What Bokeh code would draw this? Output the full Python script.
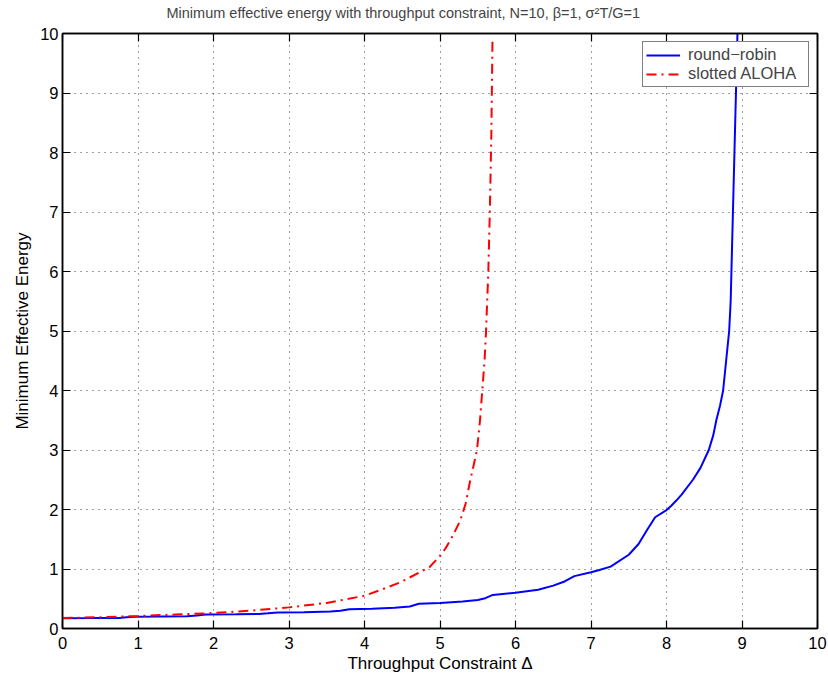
from bokeh.plotting import figure
from bokeh.models import Range1d, LinearAxis, FixedTicker, Legend, LegendItem
from bokeh.embed import file_html
from bokeh.resources import INLINE

# ---- data ----
ticks = [0, 1, 2, 3, 4, 5, 6, 7, 8, 9, 10]

rr_x = [0.0, 0.4, 0.75, 0.85, 0.95, 1.3, 1.65, 1.78, 1.9, 2.3, 2.6, 2.72, 2.85,
        3.2, 3.55, 3.68, 3.8, 4.1, 4.4, 4.6, 4.72, 5.0, 5.3, 5.5, 5.6, 5.7,
        6.0, 6.3, 6.5, 6.65, 6.78, 7.0, 7.1, 7.26, 7.5, 7.63, 7.74, 7.85,
        8.0, 8.06, 8.13, 8.2, 8.35, 8.45, 8.56, 8.62, 8.66, 8.71, 8.75, 8.79,
        8.83, 8.85, 8.86, 8.90, 8.94, 8.96]
rr_y = [0.174, 0.175, 0.178, 0.188, 0.197, 0.200, 0.207, 0.218, 0.235, 0.238,
        0.245, 0.255, 0.270, 0.274, 0.285, 0.297, 0.322, 0.33, 0.35, 0.37,
        0.415, 0.43, 0.455, 0.48, 0.51, 0.565, 0.60, 0.65, 0.72, 0.79, 0.88,
        0.945, 0.98, 1.04, 1.24, 1.42, 1.65, 1.87, 1.99, 2.06, 2.15, 2.25,
        2.5, 2.7, 3.0, 3.25, 3.5, 3.75, 4.0, 4.5, 5.0, 5.5, 6.0, 8.0, 10.0, 10.5]

aloha_x = [0.0, 0.5, 1.0, 1.5, 2.0, 2.5, 3.0, 3.5, 4.0, 4.28, 4.48, 4.74, 4.86,
           5.0, 5.07, 5.17, 5.27, 5.34, 5.40, 5.44, 5.49, 5.53, 5.56, 5.59,
           5.61, 5.64, 5.66, 5.68, 5.695]
aloha_y = [0.175, 0.19, 0.21, 0.235, 0.26, 0.30, 0.355, 0.43, 0.55, 0.68, 0.78,
           0.95, 1.03, 1.22, 1.34, 1.56, 1.82, 2.10, 2.49, 2.71, 3.0, 3.5, 4.0,
           4.5, 5.0, 6.0, 7.0, 8.3, 9.88]

title_text = "Minimum effective energy with throughput constraint, N=10, \u03b2=1, \u03c3\u00b2T/G=1"
x_label = "Throughput Constraint \u0394"
y_label = "Minimum Effective Energy"
series_names = ["round\u2212robin", "slotted ALOHA"]

FONT = "Liberation Sans"

p = figure(width=828, height=679, x_range=Range1d(0, 10), y_range=Range1d(0, 10),
           output_backend="svg", toolbar_location=None,
           min_border_left=62, min_border_right=11, min_border_top=33, min_border_bottom=51)
p.background_fill_color = "white"
p.border_fill_color = "white"
p.outline_line_color = "black"
p.outline_line_width = 1.5

p.title.text = title_text
p.title.text_font = FONT
p.title.text_font_size = "14.5px"
p.title.text_font_style = "normal"
p.title.align = "left"
p.title.offset = 104
p.title.vertical_align = "top"
p.title.standoff = 4

for ax in (p.xaxis[0], p.yaxis[0]):
    ax.ticker = FixedTicker(ticks=ticks)
    ax.major_tick_in = 8
    ax.major_tick_out = 0
    ax.minor_tick_line_color = None
    ax.axis_line_color = "black"
    ax.axis_line_width = 1.5
    ax.major_tick_line_width = 1.2
    ax.major_label_text_font = FONT
    ax.major_label_text_font_size = "16.5px"
    ax.major_label_text_color = "black"
    ax.axis_label_text_font = FONT
    ax.axis_label_text_font_size = "17px"
    ax.axis_label_text_font_style = "normal"
    ax.axis_label_text_color = "black"

p.xaxis[0].axis_label = x_label
p.xaxis[0].major_label_standoff = 8
p.xaxis[0].axis_label_standoff = 2
p.yaxis[0].axis_label = y_label
p.yaxis[0].major_label_standoff = 4
p.yaxis[0].axis_label_standoff = 5

# mirrored (box) axes with inward ticks, as in the reference
for side in ("above", "right"):
    ax = LinearAxis(ticker=FixedTicker(ticks=ticks), major_tick_in=8, major_tick_out=0,
                    minor_tick_line_color=None, major_label_text_font_size="1px",
                    major_label_text_color=None, major_label_standoff=0,
                    axis_line_width=1.5, major_tick_line_width=1.2)
    p.add_layout(ax, side)

# invisible spacer axis: lifts the title towards the top edge
spacer = LinearAxis(ticker=FixedTicker(ticks=ticks), major_tick_in=0, major_tick_out=9,
                    major_tick_line_color=None, minor_tick_line_color=None,
                    axis_line_color=None, major_label_text_font_size="1px",
                    major_label_text_color=None, major_label_standoff=0)
p.add_layout(spacer, "above")

for g in (p.xgrid[0], p.ygrid[0]):
    g.ticker = FixedTicker(ticks=ticks)
    g.grid_line_color = "black"
    g.grid_line_alpha = 0.75
    g.grid_line_dash = "1 5"
    g.grid_line_width = 1

r1 = p.line(rr_x, rr_y, line_color="#0000ff", line_width=2)
r2 = p.line(aloha_x, aloha_y, line_color="#ff0000", line_width=2, line_dash="10 5 2 5")

legend = Legend(items=[LegendItem(label=series_names[0], renderers=[r1]),
                       LegendItem(label=series_names[1], renderers=[r2])],
                location="top_right")
legend.margin = 8
legend.padding = 3
legend.spacing = 0
legend.glyph_width = 34
legend.glyph_height = 16
legend.label_height = 16
legend.label_standoff = 8
legend.label_width = 117
legend.label_text_font = FONT
legend.label_text_font_size = "16.5px"
legend.label_text_baseline = "middle"
legend.border_line_color = "black"
legend.border_line_width = 1.2
legend.background_fill_color = "white"
legend.background_fill_alpha = 1.0
p.add_layout(legend, "center")

open("out.html", "w").write(file_html(p, INLINE))
